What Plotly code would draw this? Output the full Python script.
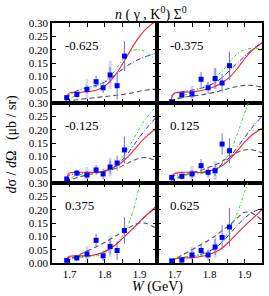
import plotly.graph_objects as go
from plotly.subplots import make_subplots

# ---- data ----
ANGLES = ["-0.625", "-0.375", "-0.125", "0.125", "0.375", "0.625"]

W_DATA = [1.692, 1.721, 1.750, 1.776, 1.796, 1.816, 1.836, 1.857]

Y_M0625 = [0.020, 0.032, 0.051, 0.080, 0.057, 0.105, 0.065, 0.176]
E_M0625 = [0.010, 0.012, 0.015, 0.022, 0.020, 0.030, 0.052, 0.056]
Y_M0375 = [0.005, 0.030, 0.034, 0.089, 0.057, 0.092, 0.075, 0.140]
E_M0375 = [0.008, 0.012, 0.015, 0.028, 0.022, 0.038, 0.035, 0.053]
Y_M0125 = [0.015, 0.037, 0.030, 0.049, 0.034, 0.060, 0.075, 0.124]
E_M0125 = [0.008, 0.012, 0.015, 0.018, 0.020, 0.025, 0.028, 0.050]
Y_P0125 = [0.021, 0.025, 0.034, 0.065, 0.040, 0.046, 0.146, 0.121]
E_P0125 = [0.010, 0.012, 0.015, 0.025, 0.020, 0.020, 0.040, 0.047]
Y_P0375 = [0.010, 0.019, 0.034, 0.085, 0.027, 0.062, 0.047, 0.122]
E_P0375 = [0.008, 0.012, 0.015, 0.025, 0.020, 0.030, 0.035, 0.050]
Y_P0625 = [0.008, 0.011, 0.030, 0.047, 0.030, 0.060, 0.096, 0.135]
E_P0625 = [0.006, 0.010, 0.015, 0.020, 0.020, 0.030, 0.047, 0.072]

# wider pale (systematic) bars
P_M0625 = [0, 0, 0.040, 0, 0, 0.053, 0, 0]
P_M0375 = [0, 0, 0.030, 0, 0, 0.040, 0, 0]
P_M0125 = [0, 0, 0.030, 0, 0, 0.035, 0, 0]
P_P0125 = [0, 0, 0.030, 0, 0, 0.035, 0, 0]
P_P0375 = [0, 0, 0.030, 0, 0, 0.040, 0, 0]
P_P0625 = [0, 0, 0.030, 0, 0, 0.040, 0, 0]

W_CURVE = [1.690, 1.695, 1.700, 1.720, 1.750, 1.780, 1.800, 1.820, 1.840, 1.860, 1.880, 1.900, 1.920, 1.950]

RED_M0625 = [0.005, 0.030, 0.038, 0.040, 0.042, 0.050, 0.063, 0.088, 0.122, 0.165, 0.210, 0.250, 0.280, 0.310]
GRN_M0625 = [0.000, 0.008, 0.015, 0.030, 0.050, 0.065, 0.080, 0.105, 0.140, 0.175, 0.197, 0.200, 0.190, 0.158]
BLU_M0625 = [0.020, 0.025, 0.030, 0.045, 0.058, 0.068, 0.078, 0.095, 0.115, 0.135, 0.152, 0.165, 0.175, 0.188]
GRY_M0625 = [0.000, 0.003, 0.006, 0.012, 0.017, 0.021, 0.024, 0.027, 0.030, 0.034, 0.038, 0.044, 0.049, 0.052]

RED_M0375 = [0.005, 0.030, 0.038, 0.040, 0.042, 0.048, 0.055, 0.065, 0.080, 0.100, 0.130, 0.165, 0.195, 0.225]
GRN_M0375 = [0.000, 0.008, 0.012, 0.025, 0.040, 0.060, 0.078, 0.100, 0.125, 0.158, 0.185, 0.200, 0.205, 0.203]
BLU_M0375 = [0.025, 0.030, 0.035, 0.042, 0.048, 0.057, 0.067, 0.080, 0.100, 0.125, 0.150, 0.175, 0.198, 0.228]
GRY_M0375 = [0.000, 0.005, 0.010, 0.020, 0.026, 0.031, 0.036, 0.042, 0.049, 0.056, 0.062, 0.066, 0.066, 0.060]

RED_M0125 = [0.005, 0.030, 0.038, 0.040, 0.040, 0.040, 0.044, 0.053, 0.068, 0.090, 0.117, 0.148, 0.175, 0.207]
GRN_M0125 = [0.000, 0.010, 0.015, 0.028, 0.035, 0.040, 0.045, 0.055, 0.078, 0.115, 0.158, 0.205, 0.245, 0.290]
BLU_M0125 = [0.020, 0.025, 0.030, 0.035, 0.037, 0.040, 0.045, 0.055, 0.073, 0.100, 0.135, 0.172, 0.205, 0.250]
GRY_M0125 = [0.000, 0.005, 0.010, 0.020, 0.030, 0.038, 0.044, 0.050, 0.058, 0.070, 0.083, 0.093, 0.095, 0.082]

RED_P0125 = [0.005, 0.028, 0.035, 0.040, 0.040, 0.040, 0.044, 0.053, 0.068, 0.092, 0.122, 0.152, 0.178, 0.205]
GRN_P0125 = [0.000, 0.008, 0.015, 0.028, 0.032, 0.036, 0.042, 0.055, 0.080, 0.120, 0.185, 0.260, 0.330, 0.420]
BLU_P0125 = [0.020, 0.025, 0.028, 0.032, 0.035, 0.040, 0.045, 0.055, 0.075, 0.100, 0.135, 0.170, 0.205, 0.250]
GRY_P0125 = [0.000, 0.006, 0.012, 0.025, 0.038, 0.050, 0.060, 0.070, 0.085, 0.100, 0.115, 0.124, 0.125, 0.113]

RED_P0375 = [0.005, 0.020, 0.025, 0.027, 0.027, 0.033, 0.042, 0.057, 0.078, 0.103, 0.128, 0.155, 0.180, 0.215]
GRN_P0375 = [0.000, 0.008, 0.012, 0.020, 0.022, 0.028, 0.036, 0.052, 0.080, 0.122, 0.188, 0.290, 0.400, 0.600]
BLU_P0375 = [0.012, 0.016, 0.020, 0.023, 0.026, 0.033, 0.042, 0.057, 0.078, 0.103, 0.128, 0.153, 0.178, 0.210]
GRY_P0375 = [0.000, 0.006, 0.012, 0.026, 0.045, 0.063, 0.077, 0.092, 0.108, 0.124, 0.140, 0.150, 0.148, 0.128]

RED_P0625 = [0.002, 0.012, 0.015, 0.018, 0.020, 0.025, 0.032, 0.043, 0.060, 0.085, 0.112, 0.138, 0.163, 0.200]
GRN_P0625 = [0.000, 0.010, 0.016, 0.022, 0.025, 0.030, 0.040, 0.057, 0.088, 0.132, 0.190, 0.265, 0.340, 0.450]
BLU_P0625 = [0.008, 0.012, 0.015, 0.020, 0.025, 0.035, 0.045, 0.060, 0.083, 0.112, 0.142, 0.168, 0.188, 0.205]
GRY_P0625 = [0.000, 0.007, 0.014, 0.028, 0.050, 0.072, 0.088, 0.105, 0.125, 0.145, 0.170, 0.190, 0.188, 0.160]

X_TICKS = [1.65, 1.70, 1.75, 1.80, 1.85, 1.90, 1.95]
X_LABELS = ["", "1.7", "", "1.8", "", "1.9", ""]
Y_TICKS = [0.00, 0.05, 0.10, 0.15, 0.20, 0.25, 0.30]
Y_LABELS = ["0.00", "0.05", "0.10", "0.15", "0.20", "0.25", "0.30"]

PANELS = [
    (ANGLES[0], Y_M0625, E_M0625, P_M0625, RED_M0625, GRN_M0625, BLU_M0625, GRY_M0625),
    (ANGLES[1], Y_M0375, E_M0375, P_M0375, RED_M0375, GRN_M0375, BLU_M0375, GRY_M0375),
    (ANGLES[2], Y_M0125, E_M0125, P_M0125, RED_M0125, GRN_M0125, BLU_M0125, GRY_M0125),
    (ANGLES[3], Y_P0125, E_P0125, P_P0125, RED_P0125, GRN_P0125, BLU_P0125, GRY_P0125),
    (ANGLES[4], Y_P0375, E_P0375, P_P0375, RED_P0375, GRN_P0375, BLU_P0375, GRY_P0375),
    (ANGLES[5], Y_P0625, E_P0625, P_P0625, RED_P0625, GRN_P0625, BLU_P0625, GRY_P0625),
]

FONT = "Liberation Serif"

fig = make_subplots(rows=3, cols=2, horizontal_spacing=0, vertical_spacing=0)

for i, (ang, yv, ev, pv, red, grn, blu, gry) in enumerate(PANELS):
    r, c = i // 2 + 1, i % 2 + 1
    # pale bars
    fig.add_trace(go.Scatter(x=W_DATA, y=yv, mode="markers",
                             marker=dict(size=1, color="rgba(0,0,0,0)"),
                             error_y=dict(type="data", array=pv, visible=True,
                                          color="#d4d4f7", thickness=3, width=0),
                             showlegend=False, hoverinfo="skip"), row=r, col=c)
    fig.add_trace(go.Scatter(x=W_CURVE, y=gry, mode="lines", line_shape="spline",
                             line=dict(color="#555555", width=1.1, dash="5px,3px"),
                             showlegend=False), row=r, col=c)
    fig.add_trace(go.Scatter(x=W_CURVE, y=blu, mode="lines", line_shape="spline",
                             line=dict(color="#2020ff", width=1, dash="5px,2px,1px,2px"),
                             showlegend=False), row=r, col=c)
    fig.add_trace(go.Scatter(x=W_CURVE, y=grn, mode="lines", line_shape="spline",
                             line=dict(color="#22dd22", width=1, dash="3px,2px,1px,2px"),
                             showlegend=False), row=r, col=c)
    fig.add_trace(go.Scatter(x=W_CURVE, y=red, mode="lines", line_shape="spline",
                             line=dict(color="#ff2020", width=1.1),
                             showlegend=False), row=r, col=c)
    fig.add_trace(go.Scatter(x=W_DATA, y=yv, mode="markers",
                             marker=dict(symbol="square", size=5, color="#0000ff"),
                             error_y=dict(type="data", array=ev, visible=True,
                                          color="#6a6aff", thickness=1, width=0),
                             showlegend=False), row=r, col=c)

    xl = X_LABELS if r == 3 else [""] * len(X_TICKS)
    if c == 1:
        yl = Y_LABELS if r == 3 else [""] + Y_LABELS[1:]
    else:
        yl = [""] * len(Y_TICKS)
    fig.update_xaxes(range=[1.65, 1.95], tickvals=X_TICKS, ticktext=xl,
                     ticks="inside", ticklen=4, tickwidth=1, tickcolor="black",
                     showline=True, linewidth=1.6, linecolor="black", mirror="allticks",
                     showgrid=False, zeroline=False,
                     tickfont=dict(family=FONT, size=11, color="black"), row=r, col=c)
    fig.update_yaxes(range=[0, 0.30], tickvals=Y_TICKS, ticktext=yl,
                     ticks="inside", ticklen=4, tickwidth=1, tickcolor="black",
                     showline=True, linewidth=1.6, linecolor="black", mirror="allticks",
                     showgrid=False, zeroline=False,
                     tickfont=dict(family=FONT, size=11, color="black"), row=r, col=c)
    xa = "x" if i == 0 else f"x{i+1}"
    ya = "y" if i == 0 else f"y{i+1}"
    fig.add_annotation(text=ang, xref=f"{xa} domain", yref=f"{ya} domain",
                       x=0.1, y=0.72, xanchor="left", yanchor="middle", showarrow=False,
                       font=dict(family=FONT, size=13, color="black"))

fig.add_annotation(text="<i>n</i> ( γ , K<sup>0</sup>) Σ<sup>0</sup>", xref="paper", yref="paper",
                   x=0.47, y=1.04, xanchor="center", yanchor="middle", showarrow=False,
                   font=dict(family=FONT, size=14, color="black"))
fig.add_annotation(text="<i>d</i>σ / <i>d</i>Ω\u00a0\u00a0\u00a0(μb / sr)", xref="paper", yref="paper",
                   x=-0.193, y=0.496, xanchor="center", yanchor="middle", textangle=-90,
                   showarrow=False, font=dict(family=FONT, size=14, color="black"))
fig.add_annotation(text="<i>W</i> (GeV)", xref="paper", yref="paper",
                   x=0.5, y=-0.1, xanchor="center", yanchor="middle", showarrow=False,
                   font=dict(family=FONT, size=14, color="black"))

fig.update_layout(width=269, height=296, margin=dict(l=52, r=5, t=23, b=33),
                  paper_bgcolor="white", plot_bgcolor="white", showlegend=False)

fig.write_html("out.html", config={"displayModeBar": False},
               post_script="document.body.style.margin='0';document.body.style.overflow='hidden';")
